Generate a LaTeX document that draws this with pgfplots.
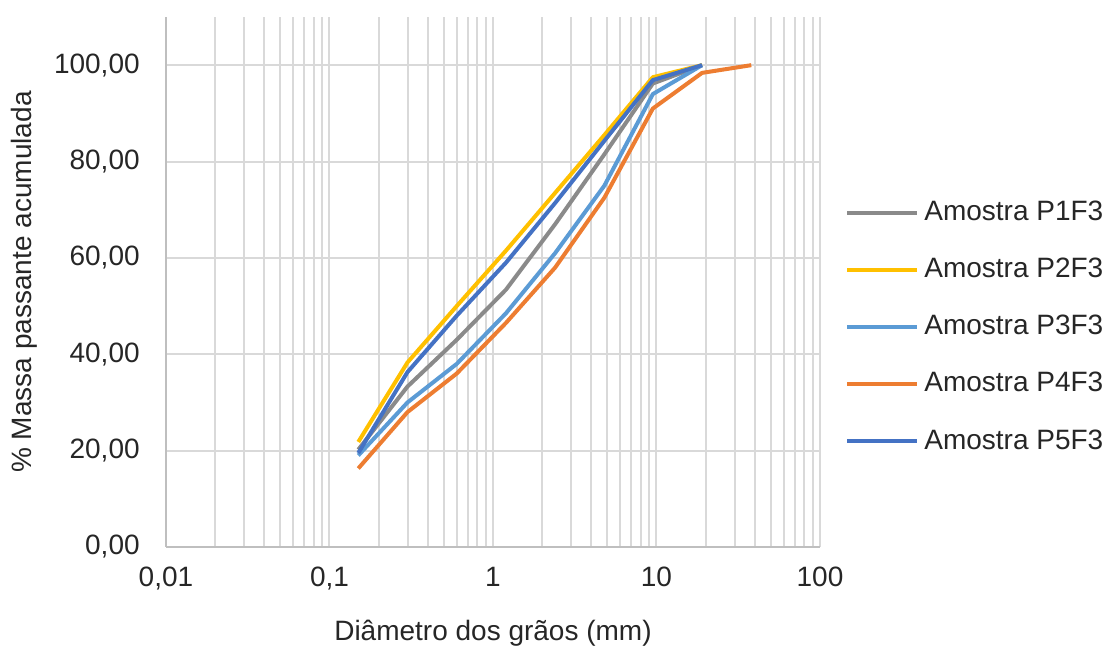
\documentclass[border=0pt]{standalone}
\usepackage{pgfplots}
\pgfplotsset{compat=1.18}
\usepackage{fontspec}
\setmainfont{Liberation Sans}
\definecolor{cgray}{HTML}{8A8A8A}
\definecolor{cyellow}{HTML}{FFC000}
\definecolor{clblue}{HTML}{5B9BD5}
\definecolor{corange}{HTML}{ED7D31}
\definecolor{cdblue}{HTML}{4472C4}
\definecolor{cgrid}{HTML}{D9D9D9}
\definecolor{caxis}{HTML}{BFBFBF}
\begin{document}
\begin{tikzpicture}
\begin{axis}[
  scale only axis,
  width=261.6pt, height=212pt,
  xmode=log, xmin=0.01, xmax=100,
  ymin=0, ymax=110,
  xtick={0.01,0.1,1,10,100},
  xticklabels={{0,01},{0,1},{1},{10},{100}},
  ytick={0,20,40,60,80,100},
  yticklabel={\pgfmathprintnumber[fixed,fixed zerofill,precision=2,use comma,assume math mode=true]{\tick}},
  xmajorgrids, xminorgrids, ymajorgrids,
  grid style={draw=cgrid, line width=0.8pt},
  minor grid style={draw=cgrid, line width=0.8pt},
  axis x line*=bottom, axis y line*=left,
  axis line style={draw=caxis, line width=0.8pt, -},
  major tick length=0pt, minor tick length=0pt,
  tick style={draw=none},
  font=\fontsize{11.2}{13.4}\selectfont,
  ticklabel style={font=\fontsize{11.2}{13.4}\selectfont, text=black!85},
  yticklabel style={xshift=-7pt},
  xticklabel style={yshift=-4.5pt},
  xlabel={Diâmetro dos grãos (mm)},
  ylabel={\% Massa passante acumulada},
  xlabel style={yshift=-5pt, text=black!85},
  ylabel style={text=black!85},
  legend style={draw=none, fill=none, at={(1.038,0.415)}, anchor=west,
    font=\fontsize{11.2}{13.4}\selectfont, text=black!85, row sep=9.5pt,
    inner sep=0pt, /tikz/every even column/.append style={column sep=0pt}},
  legend cell align=left,
  legend image code/.code={\draw[#1, line width=1.6pt] (0pt,0pt) -- (28pt,0pt);},
  every axis plot/.append style={line width=1.6pt, line join=round, mark=none},
]
\addplot[cgray] coordinates {(0.15,20.2) (0.3,33.3) (0.6,43) (1.2,53.4) (2.4,67) (4.8,81.5) (9.5,96.2) (19,100)};
\addlegendentry{Amostra P1F3}
\addplot[cyellow] coordinates {(0.15,21.8) (0.3,38.3) (0.6,50) (1.2,61.5) (2.4,73.5) (4.8,85.5) (9.5,97.5) (19,100)};
\addlegendentry{Amostra P2F3}
\addplot[clblue] coordinates {(0.15,19) (0.3,30) (0.6,38) (1.2,48.5) (2.4,61) (4.8,75) (9.5,94) (19,100)};
\addlegendentry{Amostra P3F3}
\addplot[corange] coordinates {(0.15,16.3) (0.3,28) (0.6,36) (1.2,46.5) (2.4,58) (4.8,72.5) (9.5,91) (19,98.4) (38,100)};
\addlegendentry{Amostra P4F3}
\addplot[cdblue] coordinates {(0.15,19.5) (0.3,36.3) (0.6,48) (1.2,59) (2.4,71.4) (4.8,84.3) (9.5,96.9) (19,100)};
\addlegendentry{Amostra P5F3}
\end{axis}
\path ([xshift=-66.4pt,yshift=-39.6pt]current axis.south west) rectangle ([xshift=116.8pt,yshift=6.8pt]current axis.north east);
\end{tikzpicture}
\end{document}
